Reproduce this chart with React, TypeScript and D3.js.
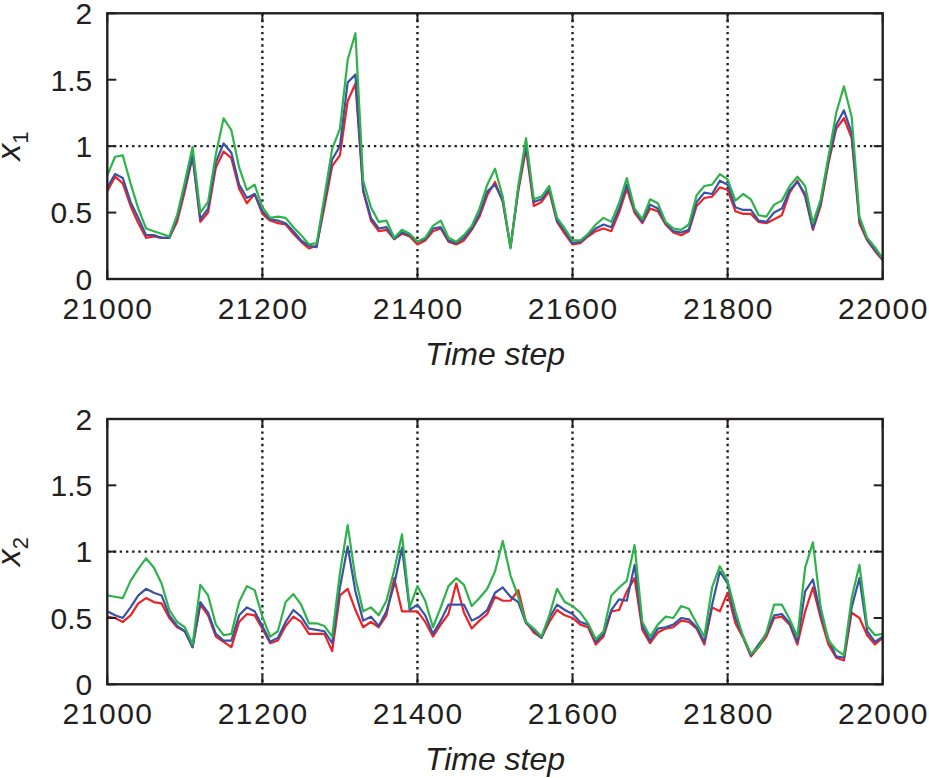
import React from 'react';
import * as d3 from 'd3';

// time axis: one sample every 10 steps
const STEP_START = 21000;
const STEP_END = 22000;
const STEP = 10;
const timeSteps = d3.range(STEP_START, STEP_END + 1, STEP);

const xTicks = [21000, 21200, 21400, 21600, 21800, 22000];
const xGrid = [21200, 21400, 21600, 21800];
const yTicks = [0, 0.5, 1, 1.5, 2];
const yGrid = [1];

// panel 1: x1
const x1Red = [
  0.66, 0.77, 0.72, 0.55, 0.42, 0.31, 0.32, 0.31, 0.31, 0.43,
  0.66, 0.92, 0.43, 0.50, 0.84, 0.96, 0.91, 0.68, 0.57, 0.64,
  0.49, 0.44, 0.42, 0.41, 0.34, 0.28, 0.23, 0.25, 0.54, 0.85,
  0.93, 1.34, 1.47, 0.66, 0.44, 0.36, 0.37, 0.30, 0.34, 0.32,
  0.26, 0.29, 0.36, 0.38, 0.28, 0.26, 0.29, 0.37, 0.47, 0.63,
  0.73, 0.58, 0.24, 0.66, 0.98, 0.55, 0.58, 0.66, 0.43, 0.34,
  0.26, 0.27, 0.32, 0.36, 0.38, 0.36, 0.50, 0.68, 0.50, 0.42,
  0.53, 0.51, 0.41, 0.35, 0.33, 0.36, 0.55, 0.61, 0.62, 0.69,
  0.67, 0.51, 0.49, 0.49, 0.43, 0.42, 0.45, 0.48, 0.65, 0.74,
  0.62, 0.37, 0.55, 0.87, 1.13, 1.21, 1.06, 0.42, 0.29, 0.21,
  0.14,
];
const x1Blue = [
  0.69, 0.79, 0.76, 0.58, 0.46, 0.33, 0.33, 0.31, 0.31, 0.46,
  0.69, 0.93, 0.45, 0.53, 0.88, 1.02, 0.95, 0.71, 0.61, 0.64,
  0.51, 0.45, 0.44, 0.42, 0.36, 0.29, 0.25, 0.24, 0.58, 0.90,
  1.00, 1.48, 1.54, 0.67, 0.46, 0.38, 0.39, 0.30, 0.35, 0.33,
  0.28, 0.30, 0.38, 0.39, 0.29, 0.27, 0.31, 0.38, 0.49, 0.66,
  0.71, 0.59, 0.24, 0.68, 1.01, 0.58, 0.60, 0.68, 0.44, 0.36,
  0.27, 0.28, 0.33, 0.38, 0.41, 0.39, 0.53, 0.71, 0.52, 0.43,
  0.56, 0.53, 0.42, 0.36, 0.35, 0.37, 0.58, 0.65, 0.64, 0.74,
  0.71, 0.54, 0.52, 0.52, 0.44, 0.43, 0.50, 0.53, 0.67, 0.73,
  0.64, 0.38, 0.57, 0.89, 1.16, 1.27, 1.10, 0.44, 0.30, 0.22,
  0.15,
];
const x1Green = [
  0.78, 0.92, 0.93, 0.72, 0.53, 0.38, 0.36, 0.34, 0.32, 0.48,
  0.73, 0.995, 0.50, 0.58, 0.94, 1.21, 1.12, 0.84, 0.67, 0.71,
  0.54, 0.46, 0.47, 0.46, 0.39, 0.33, 0.26, 0.27, 0.62, 0.98,
  1.13, 1.65, 1.85, 0.74, 0.54, 0.43, 0.44, 0.31, 0.37, 0.34,
  0.28, 0.31, 0.40, 0.44, 0.31, 0.28, 0.33, 0.40, 0.53, 0.71,
  0.83, 0.62, 0.23, 0.70, 1.06, 0.60, 0.62, 0.70, 0.46, 0.38,
  0.29, 0.29, 0.34, 0.41, 0.46, 0.43, 0.57, 0.76, 0.53, 0.45,
  0.60, 0.57, 0.43, 0.38, 0.37, 0.41, 0.63, 0.70, 0.71, 0.79,
  0.75, 0.59, 0.64, 0.60, 0.48, 0.47, 0.56, 0.59, 0.70, 0.77,
  0.70, 0.42, 0.60, 0.92, 1.25, 1.45, 1.22, 0.47, 0.31, 0.24,
  0.155,
];

// panel 2: x2
const x2Red = [
  0.51, 0.50, 0.47, 0.52, 0.61, 0.65, 0.62, 0.61, 0.50, 0.43,
  0.40, 0.28, 0.60, 0.52, 0.36, 0.32, 0.28, 0.47, 0.53, 0.52,
  0.42, 0.31, 0.33, 0.44, 0.51, 0.47, 0.38, 0.38, 0.38, 0.25,
  0.67, 0.72, 0.56, 0.43, 0.47, 0.43, 0.52, 0.80, 0.55, 0.55,
  0.55, 0.47, 0.36, 0.45, 0.53, 0.76, 0.54, 0.42, 0.48, 0.53,
  0.66, 0.63, 0.63, 0.71, 0.47, 0.39, 0.35, 0.47, 0.56, 0.52,
  0.50, 0.45, 0.43, 0.30, 0.36, 0.55, 0.56, 0.70, 0.80, 0.41,
  0.31, 0.39, 0.42, 0.43, 0.48, 0.47, 0.42, 0.30, 0.58, 0.55,
  0.69, 0.46, 0.35, 0.21, 0.28, 0.36, 0.50, 0.51, 0.45, 0.30,
  0.55, 0.73, 0.50, 0.30, 0.20, 0.18, 0.54, 0.50, 0.37, 0.30,
  0.35,
];
const x2Blue = [
  0.55, 0.52, 0.50, 0.58, 0.67, 0.72, 0.69, 0.67, 0.52, 0.44,
  0.40, 0.28, 0.62, 0.54, 0.38, 0.33, 0.33, 0.52, 0.58, 0.55,
  0.44, 0.32, 0.35, 0.47, 0.56, 0.51, 0.42, 0.41, 0.40, 0.31,
  0.73, 1.04, 0.70, 0.48, 0.51, 0.44, 0.55, 0.75, 1.03, 0.56,
  0.60, 0.52, 0.38, 0.48, 0.60, 0.60, 0.60, 0.48, 0.51, 0.56,
  0.69, 0.73, 0.66, 0.62, 0.46, 0.41, 0.35, 0.50, 0.60, 0.56,
  0.53, 0.47, 0.45, 0.32, 0.38, 0.56, 0.64, 0.63, 0.90, 0.44,
  0.33, 0.42, 0.43, 0.45, 0.50, 0.49, 0.43, 0.32, 0.60, 0.85,
  0.76, 0.50, 0.36, 0.22, 0.30, 0.38, 0.52, 0.53, 0.46, 0.32,
  0.70, 0.79, 0.53, 0.34, 0.21, 0.20, 0.58, 0.80, 0.40, 0.32,
  0.36,
];
const x2Green = [
  0.67, 0.66, 0.65, 0.78, 0.87, 0.95, 0.88, 0.76, 0.56, 0.47,
  0.43, 0.30, 0.75, 0.67, 0.45, 0.37, 0.38, 0.62, 0.74, 0.71,
  0.51, 0.36, 0.40, 0.62, 0.68, 0.60, 0.46, 0.46, 0.44, 0.36,
  0.84, 1.20, 0.80, 0.55, 0.58, 0.52, 0.63, 0.86, 1.13, 0.58,
  0.74, 0.63, 0.43, 0.58, 0.74, 0.80, 0.75, 0.59, 0.65, 0.72,
  0.85, 1.08, 0.82, 0.66, 0.47, 0.42, 0.36, 0.52, 0.72, 0.62,
  0.59, 0.54, 0.46, 0.34, 0.40, 0.67, 0.73, 0.78, 1.05, 0.47,
  0.36, 0.45, 0.51, 0.50, 0.59, 0.57, 0.46, 0.36, 0.73, 0.89,
  0.78, 0.55, 0.36, 0.23, 0.28, 0.39, 0.60, 0.60, 0.49, 0.36,
  0.88, 1.07, 0.58, 0.33, 0.26, 0.22, 0.65, 0.90, 0.44, 0.37,
  0.38,
];

const RED = '#ec2227';
const BLUE = '#3a52a5';
const GREEN = '#2db34a';
const INK = '#231f20';
const FONT = '"Liberation Sans", Arial, Helvetica, sans-serif';

const W = 929;
const H = 778;
const LEFT = 107.3;
const RIGHT = 882.7;
const TICK = 9;

const x = d3.scaleLinear().domain([STEP_START, STEP_END]).range([LEFT, RIGHT]);

interface PanelProps {
  top: number;
  bottom: number;
  sub: string;
  series: { values: number[]; color: string }[];
}

const Panel: React.FC<PanelProps> = ({ top, bottom, sub, series }) => {
  const y = d3.scaleLinear().domain([0, 2]).range([bottom, top]);
  const line = d3.line<number>()
    .x((_, i) => x(timeSteps[i]))
    .y(d => y(d));
  const midY = y(1);

  return (
    <g>
      <defs>
        <clipPath id={`clip-${sub}`}>
          <rect x={LEFT} y={top} width={RIGHT - LEFT} height={bottom - top} />
        </clipPath>
      </defs>

      {/* dotted grid */}
      {xGrid.map(t => (
        <line key={`gx${t}`} x1={x(t)} x2={x(t)} y1={top} y2={bottom}
          stroke={INK} strokeWidth={2.4} strokeDasharray="2.4,3.8" />
      ))}
      {yGrid.map(v => (
        <line key={`gy${v}`} x1={LEFT} x2={RIGHT} y1={y(v)} y2={y(v)}
          stroke={INK} strokeWidth={2.4} strokeDasharray="2.4,3.8" />
      ))}

      {/* series */}
      <g clipPath={`url(#clip-${sub})`}>
        {series.map((s, i) => (
          <path key={i} d={line(s.values) || ''} fill="none" stroke={s.color}
            strokeWidth={2.2} strokeLinejoin="round" />
        ))}
      </g>

      {/* ticks, inside on all four sides */}
      {yTicks.map(v => (
        <g key={`ty${v}`}>
          <line x1={LEFT} x2={LEFT + TICK} y1={y(v)} y2={y(v)} stroke={INK} strokeWidth={2} />
          <line x1={RIGHT - TICK} x2={RIGHT} y1={y(v)} y2={y(v)} stroke={INK} strokeWidth={2} />
          <text x={LEFT - 15} y={y(v)} dy="0.36em" textAnchor="end"
            fontFamily={FONT} fontSize={30} fill={INK}>{v}</text>
        </g>
      ))}
      {xTicks.map(t => (
        <g key={`tx${t}`}>
          <line x1={x(t)} x2={x(t)} y1={bottom} y2={bottom - TICK} stroke={INK} strokeWidth={2} />
          <line x1={x(t)} x2={x(t)} y1={top} y2={top + TICK} stroke={INK} strokeWidth={2} />
          <text x={x(t) + 0.75} y={bottom + 40} textAnchor="middle" letterSpacing={1.5}
            fontFamily={FONT} fontSize={30} fill={INK}>{t}</text>
        </g>
      ))}

      {/* frame */}
      <rect x={LEFT} y={top} width={RIGHT - LEFT} height={bottom - top}
        fill="none" stroke={INK} strokeWidth={2.4} />

      {/* axis labels */}
      <text transform={`translate(20,${midY}) rotate(-90)`} textAnchor="middle"
        fontFamily={FONT} fill={INK}>
        <tspan fontSize={34} fontStyle="italic">x</tspan>
        <tspan fontSize={22} dy={8}>{sub}</tspan>
      </text>
      <text x={(LEFT + RIGHT) / 2} y={bottom + 86} textAnchor="middle"
        fontFamily={FONT} fontSize={32} fontStyle="italic" fill={INK}>Time step</text>
    </g>
  );
};

export default function App() {
  return (
    <div style={{ position: 'absolute', left: 0, top: 0 }}>
      <svg width={W} height={H} style={{ display: 'block', background: '#fff' }}>
        <Panel top={13.3} bottom={279} sub="1"
          series={[
            { values: x1Red, color: RED },
            { values: x1Blue, color: BLUE },
            { values: x1Green, color: GREEN },
          ]} />
        <Panel top={419} bottom={684.3} sub="2"
          series={[
            { values: x2Red, color: RED },
            { values: x2Blue, color: BLUE },
            { values: x2Green, color: GREEN },
          ]} />
      </svg>
    </div>
  );
}
